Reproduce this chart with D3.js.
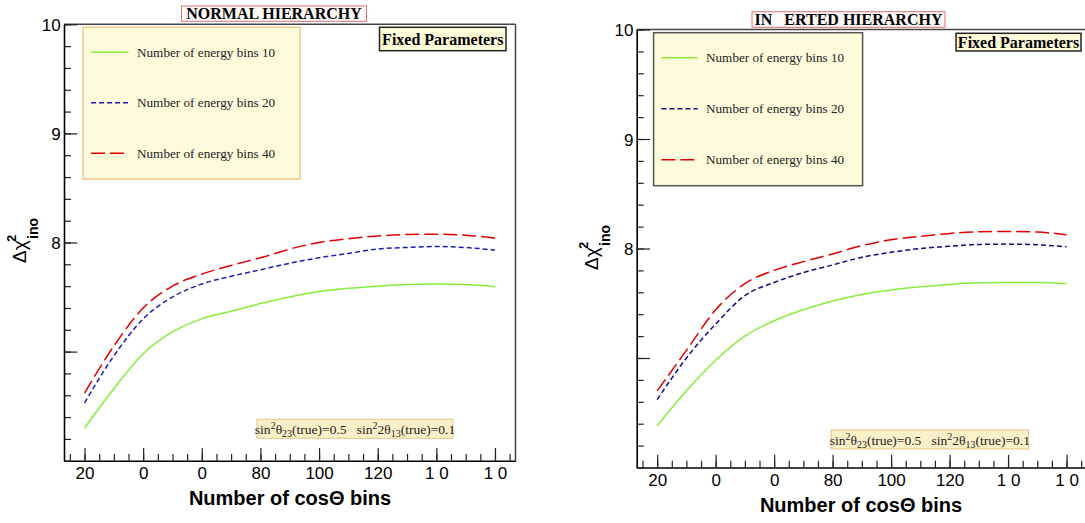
<!DOCTYPE html>
<html>
<head>
<meta charset="utf-8">
<script src="https://cdn.jsdelivr.net/npm/d3@7"></script>
<style>
  body { margin: 0; background: #fff; }
  svg { display: block; }
  text { white-space: pre; }
</style>
</head>
<body>
<script>
// values
const cosBins = [20, 30, 40, 50, 60, 70, 80, 90, 100, 110, 120, 130, 140, 150, 160];
const nhEbins10 = [6.30, 6.66, 6.98, 7.18, 7.30, 7.37, 7.44, 7.50, 7.55, 7.58, 7.60, 7.615, 7.62, 7.615, 7.595];
const nhEbins20 = [6.53, 6.96, 7.30, 7.50, 7.62, 7.69, 7.75, 7.81, 7.86, 7.90, 7.94, 7.955, 7.963, 7.954, 7.93];
const nhEbins40 = [6.62, 7.05, 7.40, 7.60, 7.71, 7.79, 7.86, 7.94, 8.00, 8.035, 8.06, 8.073, 8.076, 8.067, 8.04];
const ihEbins10 = [6.38, 6.70, 6.98, 7.20, 7.34, 7.44, 7.52, 7.58, 7.62, 7.65, 7.672, 7.687, 7.69, 7.69, 7.678];
const ihEbins20 = [6.62, 7.00, 7.31, 7.57, 7.69, 7.78, 7.85, 7.92, 7.965, 8.00, 8.02, 8.037, 8.04, 8.034, 8.016];
const ihEbins40 = [6.70, 7.07, 7.44, 7.68, 7.80, 7.88, 7.95, 8.026, 8.08, 8.11, 8.138, 8.153, 8.156, 8.15, 8.126];

const legendLabels = ["Number of energy bins 10", "Number of energy bins 20", "Number of energy bins 40"];
const xTickValues = [20, 40, 60, 80, 100, 120, 140, 160];
const xTickLabels = ["20", "0", "0", "80", "100", "120", "1 0", "1 0"];
const yTickValues = [10, 9, 8, 7];
const yTickLabels = ["10", "9", "8", ""];
const xDomain = [13, 167];
const yDomain = [6, 10];

const width = 1085, height = 523;
const svg = d3.select("body").append("svg")
  .attr("width", width)
  .attr("height", height);

const serif = "'Liberation Serif', 'Times New Roman', serif";
const sans = "'Liberation Sans', Arial, sans-serif";

// layout of each pad
const panels = [
  {
    series: [nhEbins10, nhEbins20, nhEbins40],
    colors: ["#86ee3a", "#1c1cb4", "#e00000"],
    x0: 64, x1: 515.5, yTop: 24.3, yBot: 460.7,
    title: "NORMAL HIERARCHY", titleBox: [181.5, 6, 185, 15.3], titleSize: 16,
    legend: { x: 83, y: 27.3, w: 217, h: 151.7, stroke: "#eec78a", rows: [52.3, 102.7, 153.3], l0: 91, l1: 128.4, tx: 137 },
    fixed: { x: 379.5, y: 27.3, w: 126.5, h: 23.4 },
    note: { x: 257, y: 419.3, w: 196, h: 19 },
    yTitle: [26, 263], xTitle: [290, 505]
  },
  {
    series: [ihEbins10, ihEbins20, ihEbins40],
    colors: ["#86ee3a", "#0c0c80", "#e00000"],
    x0: 636.7, x1: 1087, yTop: 29.5, yBot: 467.5,
    title: "IN   ERTED HIERARCHY", titleBox: [752, 11.7, 193, 15.6], titleSize: 16,
    legend: { x: 653.6, y: 32.7, w: 209, h: 153, stroke: "#555", rows: [57.7, 108.7, 159.7], l0: 661.4, l1: 697.7, tx: 706 },
    fixed: { x: 956, y: 33.3, w: 125, h: 17.7 },
    note: { x: 831, y: 430, w: 197.6, h: 19 },
    yTitle: [598, 270], xTitle: [861, 512]
  }
];

const dashes = [null, "5,3", "14,5"];

panels.forEach(p => {
  const x = d3.scaleLinear().domain(xDomain).range([p.x0, p.x1]);
  const y = d3.scaleLinear().domain(yDomain).range([p.yBot, p.yTop]);
  const g = svg.append("g");

  // frame top and right
  g.append("line").attr("x1", p.x0).attr("x2", p.x1).attr("y1", p.yTop).attr("y2", p.yTop)
    .attr("stroke", "#444").attr("stroke-width", 1.5);
  g.append("line").attr("x1", p.x1).attr("x2", p.x1).attr("y1", p.yTop).attr("y2", p.yBot)
    .attr("stroke", "#444").attr("stroke-width", 1.5);

  // x axis, major and minor ticks pointing up
  const xMinor = d3.range(15, 166, 5);
  g.append("g").attr("transform", `translate(0,${p.yBot})`)
    .call(d3.axisBottom(x).tickValues(xMinor).tickSizeInner(-6.8).tickSizeOuter(0).tickFormat(""))
    .call(a => a.select(".domain").remove());
  const xa = g.append("g").attr("transform", `translate(0,${p.yBot})`)
    .call(d3.axisBottom(x).tickValues(xTickValues).tickSizeInner(-12.7).tickSizeOuter(0)
      .tickPadding(6).tickFormat((d, i) => xTickLabels[i]));
  xa.selectAll("text").attr("y", 18).attr("dy", 0)
    .style("font-family", sans).style("font-size", "17px").attr("fill", "#000");

  // y axis, ticks pointing right
  const yMinor = d3.range(6, 10.01, 0.2);
  g.append("g").attr("transform", `translate(${p.x0},0)`)
    .call(d3.axisLeft(y).tickValues(yMinor).tickSizeInner(-7).tickSizeOuter(0).tickFormat(""))
    .call(a => a.select(".domain").remove());
  const ya = g.append("g").attr("transform", `translate(${p.x0},0)`)
    .call(d3.axisLeft(y).tickValues(yTickValues).tickSizeInner(-13.3).tickSizeOuter(0)
      .tickPadding(3.3).tickFormat((d, i) => yTickLabels[i]));
  ya.selectAll("text").attr("dy", "0.38em")
    .style("font-family", sans).style("font-size", "17px").attr("fill", "#000");

  svg.selectAll(".domain").attr("stroke", "#000").attr("stroke-width", 1.6);
  g.selectAll(".tick line").attr("stroke", "#222").attr("stroke-width", 1.2);

  // curves
  const line = d3.line().x((d, i) => x(cosBins[i])).y(d => y(d)).curve(d3.curveMonotoneX);
  p.series.forEach((s, k) => {
    g.append("path").datum(s)
      .attr("d", line)
      .attr("fill", "none")
      .attr("stroke", p.colors[k])
      .attr("stroke-width", 1.5)
      .attr("stroke-dasharray", dashes[k]);
  });

  // title box
  const tb = p.titleBox;
  g.append("rect").attr("x", tb[0]).attr("y", tb[1]).attr("width", tb[2]).attr("height", tb[3])
    .attr("fill", "#fffafa").attr("stroke", "#e07070").attr("stroke-width", 1);
  g.append("text").attr("x", tb[0] + tb[2] / 2).attr("y", tb[1] + tb[3] - 2.5)
    .attr("text-anchor", "middle")
    .style("font-family", serif).style("font-weight", "bold").style("font-size", p.titleSize + "px")
    .text(p.title);

  // legend
  const L = p.legend;
  g.append("rect").attr("x", L.x).attr("y", L.y).attr("width", L.w).attr("height", L.h)
    .attr("fill", "#fefbdd").attr("stroke", L.stroke).attr("stroke-width", 1.5);
  legendLabels.forEach((lab, k) => {
    g.append("line").attr("x1", L.l0).attr("x2", L.l1).attr("y1", L.rows[k]).attr("y2", L.rows[k])
      .attr("stroke", p.colors[k]).attr("stroke-width", 1.5).attr("stroke-dasharray", dashes[k]);
    g.append("text").attr("x", L.tx).attr("y", L.rows[k]).attr("dy", "0.35em")
      .style("font-family", serif).style("font-size", "13.2px").attr("fill", "#222")
      .text(lab);
  });

  // fixed parameters box
  const F = p.fixed;
  g.append("rect").attr("x", F.x).attr("y", F.y).attr("width", F.w).attr("height", F.h)
    .attr("fill", "#fdfbd8").attr("stroke", "#222").attr("stroke-width", 1.5);
  g.append("text").attr("x", F.x + F.w / 2).attr("y", F.y + F.h / 2).attr("dy", "0.35em")
    .attr("text-anchor", "middle")
    .style("font-family", serif).style("font-weight", "bold").style("font-size", "16px")
    .text("Fixed Parameters");

  // parameter note
  const N = p.note;
  g.append("rect").attr("x", N.x).attr("y", N.y).attr("width", N.w).attr("height", N.h)
    .attr("fill", "#fcf0c8").attr("stroke", "#e6c68a").attr("stroke-width", 1);
  const nt = g.append("text").attr("x", N.x + N.w / 2).attr("y", N.y + 14.5)
    .attr("text-anchor", "middle")
    .style("font-family", serif).style("font-size", "13.5px").attr("fill", "#222");
  nt.append("tspan").text("sin");
  nt.append("tspan").attr("dy", -5).style("font-size", "10px").text("2");
  nt.append("tspan").attr("dy", 5).text("θ");
  nt.append("tspan").attr("dy", 3).style("font-size", "10px").text("23");
  nt.append("tspan").attr("dy", -3).text("(true)=0.5   sin");
  nt.append("tspan").attr("dy", -5).style("font-size", "10px").text("2");
  nt.append("tspan").attr("dy", 5).text("2θ");
  nt.append("tspan").attr("dy", 3).style("font-size", "10px").text("13");
  nt.append("tspan").attr("dy", -3).text("(true)=0.1");

  // x axis title
  g.append("text").attr("x", p.xTitle[0]).attr("y", p.xTitle[1])
    .attr("text-anchor", "middle")
    .style("font-family", sans).style("font-weight", "bold").style("font-size", "20px")
    .text("Number of cosΘ bins");

  // y axis title, rotated
  const yt = g.append("g").attr("transform", `translate(${p.yTitle[0]},${p.yTitle[1]}) rotate(-90)`);
  yt.append("text").attr("x", 0).attr("y", 0)
    .style("font-family", sans).style("font-size", "19px").text("Δχ");
  yt.append("text").attr("x", 21).attr("y", -10)
    .style("font-family", sans).style("font-weight", "bold").style("font-size", "13px").text("2");
  yt.append("text").attr("x", 24).attr("y", 12)
    .style("font-family", sans).style("font-weight", "bold").style("font-size", "14px").text("ino");
});
</script>
</body>
</html>
